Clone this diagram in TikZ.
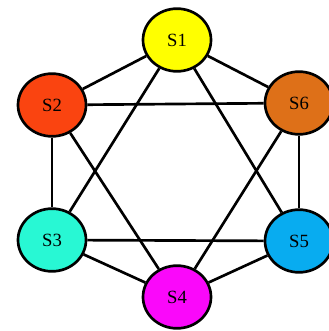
\documentclass[tikz,border=0pt]{standalone}
\usepackage{fontspec}
\setmainfont{Liberation Serif}
\usetikzlibrary{shapes.geometric}
\definecolor{cS1}{RGB}{255,255,0}
\definecolor{cS2}{RGB}{250,68,16}
\definecolor{cS6}{RGB}{222,112,24}
\definecolor{cS3}{RGB}{40,248,212}
\definecolor{cS5}{RGB}{8,172,240}
\definecolor{cS4}{RGB}{250,8,250}
\begin{document}
\begin{tikzpicture}[x=0.75pt,y=-0.75pt,
  snode/.style={ellipse,draw=black,line width=2pt,minimum width=51pt,minimum height=47pt,inner sep=0pt,font=\fontsize{14}{14}\selectfont},
  link/.style={line width=2pt,black}]
\useasboundingbox (0,0) rectangle (328,331);
\node[snode,fill=cS1] (s1) at (177,40) {S1};
\node[snode,fill=cS2] (s2) at (52,105) {S2};
\node[snode,fill=cS6] (s6) at (299,103) {S6};
\node[snode,fill=cS3] (s3) at (52,240) {S3};
\node[snode,fill=cS5] (s5) at (299,241) {S5};
\node[snode,fill=cS4] (s4) at (177,297) {S4};
\draw[link] (s1) -- (s2);
\draw[link] (s1) -- (s6);
\draw[link] (s1) -- (s3);
\draw[link] (s1) -- (s5);
\draw[link] (s2) -- (s6);
\draw[link] (s2) -- (s3);
\draw[link] (s2) -- (s4);
\draw[link] (s6) -- (s5);
\draw[link] (s6) -- (s4);
\draw[link] (s3) -- (s5);
\draw[link] (s3) -- (s4);
\draw[link] (s5) -- (s4);
\end{tikzpicture}
\end{document}
